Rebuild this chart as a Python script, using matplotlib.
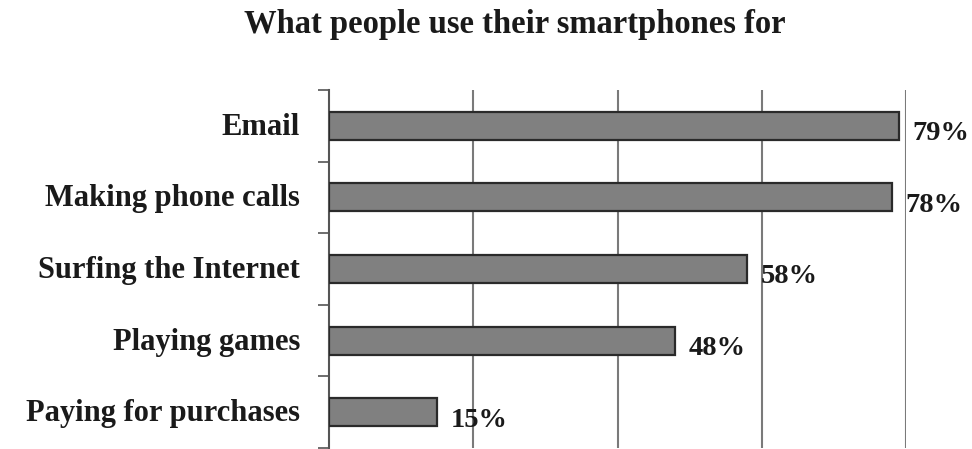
import matplotlib
matplotlib.use("Agg")
import matplotlib.pyplot as plt

categories = ["Email", "Making phone calls", "Surfing the Internet",
              "Playing games", "Paying for purchases"]
values = [79, 78, 58, 48, 15]
title = "What people use their smartphones for"

plt.rcParams["font.family"] = ["Liberation Serif", "DejaVu Serif"]
plt.rcParams["font.weight"] = "bold"

fig = plt.figure(figsize=(9.72, 4.49), dpi=100)
ax = fig.add_axes([329 / 972, 1 - 448 / 449, (906 - 329) / 972, (448 - 90) / 449])

ypos = list(range(len(categories)))
ax.barh(ypos, values, height=0.39, color="#808080", edgecolor="#2a2a2a",
        linewidth=1.6, zorder=3)

ax.set_xlim(0, 80)
ax.set_ylim(len(categories) - 0.5, -0.5)

for x in (20, 40, 60, 80):
    ax.axvline(x, color="#7a7a7a", linewidth=1.5, zorder=1)

for y, v in zip(ypos, values):
    ax.text(v + 1.9, y + 0.2, f"{v}%", va="baseline", ha="left",
            fontsize=20.5, fontweight="bold", color="#1a1a1a", zorder=4)

# category labels sit between tick marks at the group boundaries
ax.set_yticks([y - 0.5 for y in ypos] + [len(categories) - 0.5])
ax.set_yticklabels([])
ax.tick_params(axis="y", length=8, width=1.2, color="#555555", direction="out")
for y, c in zip(ypos, categories):
    ax.text(-4.0, y + 0.125, c, va="baseline", ha="right", fontsize=22,
            fontweight="bold", color="#1a1a1a")

ax.set_xticks([])
for s in ("top", "right", "bottom"):
    ax.spines[s].set_visible(False)
ax.spines["left"].set_color("#555555")
ax.spines["left"].set_linewidth(1.5)

fig.text(515 / 972, 1 - 33 / 449, title, ha="center", va="baseline",
         fontsize=23.5, fontweight="bold", color="#1a1a1a")

fig.savefig("out.png", dpi=100, facecolor="white")
